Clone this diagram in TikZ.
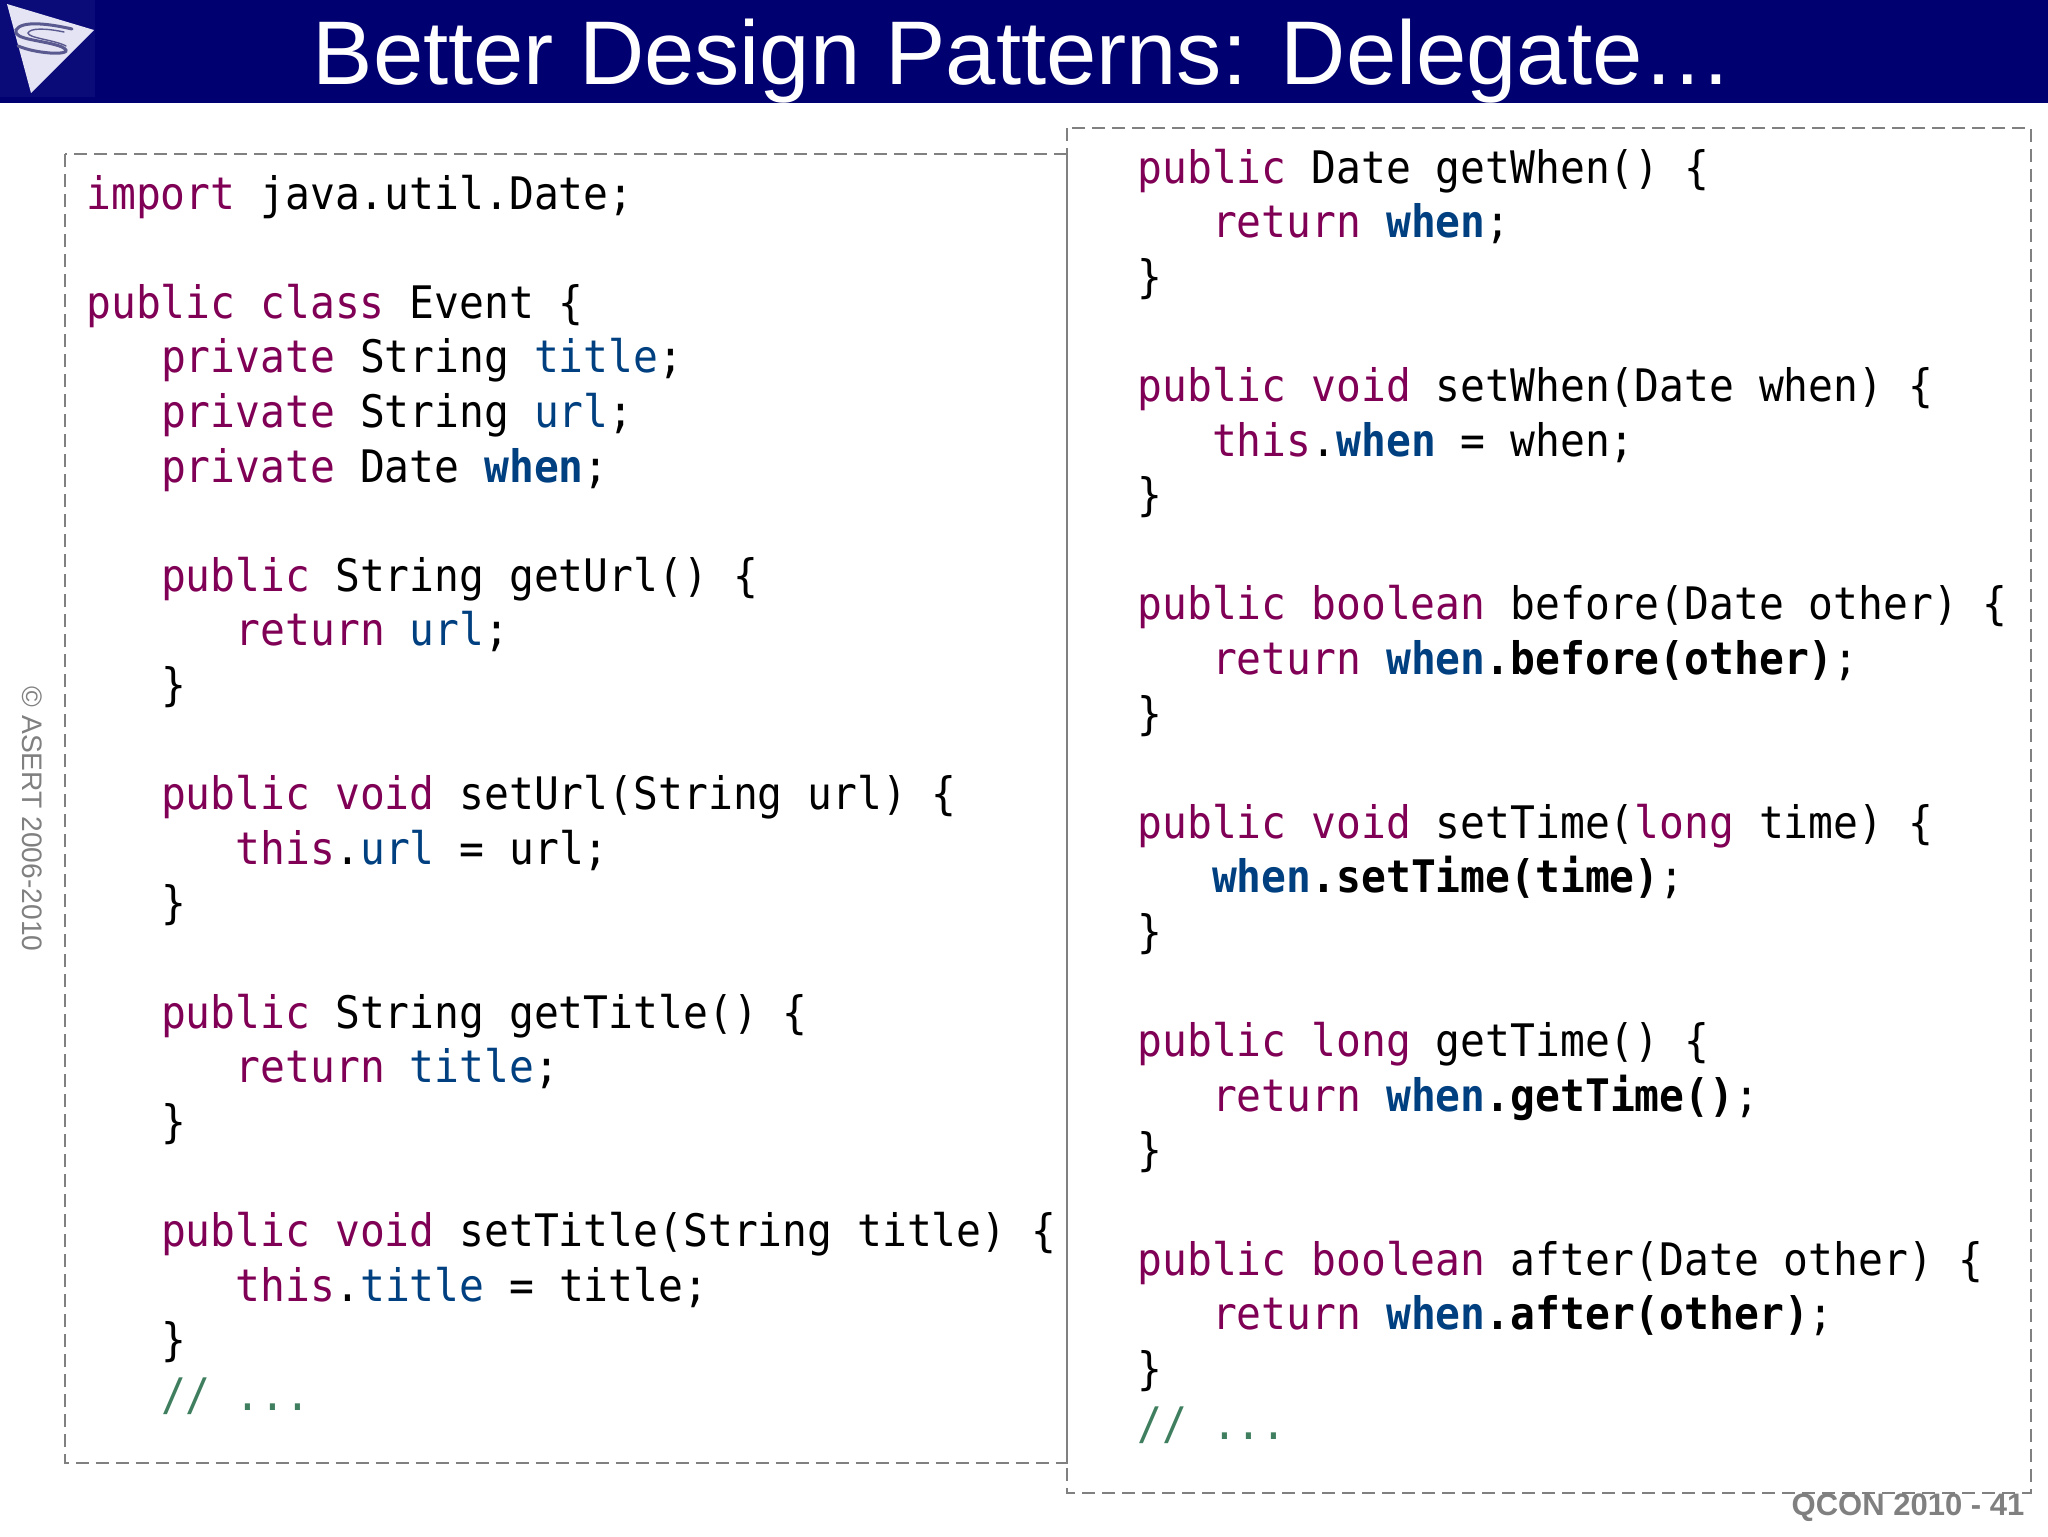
\documentclass[tikz,border=0pt]{standalone}
\usepackage{fontspec}
\setmainfont{Liberation Sans}
\newfontfamily\codefont[FakeStretch=0.922]{DejaVu Sans Mono}
\usetikzlibrary{positioning}
\definecolor{bandblue}{HTML}{000070}
\definecolor{logoblue}{HTML}{0A0A78}
\definecolor{logoface}{HTML}{E4E4F4}
\definecolor{logoswoosh}{HTML}{5A5A90}
\definecolor{kwcolor}{HTML}{7F0055}
\definecolor{fldcolor}{HTML}{004080}
\definecolor{cmtcolor}{HTML}{3F7F5F}
\definecolor{dashgray}{HTML}{808080}
\newcommand\kw[1]{\textcolor{kwcolor}{#1}}
\newcommand\fld[1]{\textcolor{fldcolor}{#1}}
\newcommand\fldb[1]{\textcolor{fldcolor}{\bfseries #1}}
\newcommand\cmt[1]{\textcolor{cmtcolor}{#1}}
\newcommand\ind{\hspace*{37.35pt}}
\newcommand\blankline{\mbox{}\\}
\tikzset{
  codeblock/.style={anchor=north west, inner sep=0pt, align=left, text=black,
    font=\fontsize{22.4}{27.3}\selectfont\codefont},
  dashbox/.style={draw=dashgray, line width=1.2pt, dash pattern=on 6.5pt off 3.5pt},
  footnote/.style={text=dashgray},
  swoosh/.style={draw=logoswoosh, line cap=round}
}
\begin{document}
\begin{tikzpicture}[x=0.5pt,y=-0.5pt]
\useasboundingbox (0,0) rectangle (2048,1536);
% header
\fill[bandblue] (0,0) rectangle (2048,103);
\fill[logoblue] (0,0) rectangle (95,97);
\fill[logoface] (7,4) -- (94,30) -- (31,93) -- cycle;
\draw[swoosh, line width=1.5pt] (72,29) .. controls (50,24) and (22,20) .. (16,30) .. controls (12,40) and (45,40) .. (62,47) .. controls (72,52) and (62,54) .. (50,53) .. controls (38,52) and (28,50) .. (18,46);
\draw[swoosh, line width=0.7pt] (64,32) .. controls (45,28) and (30,28) .. (28,33) .. controls (28,38) and (55,40) .. (66,46);
\node (title) at (1023,61) {\fontsize{45.2}{50}\selectfont\color{white}Better Design Patterns: Delegate…};
% boxes
\draw[dashbox] (65,154) rectangle (1067,1463);
\draw[dashbox] (1067,128) rectangle (2031,1493);
% left code
\node[codeblock] (leftcode) at (86,174.5) {%
\kw{import} java.util.Date;\\
\blankline
\kw{public} \kw{class} Event \{\\
\ind\kw{private} String \fld{title};\\
\ind\kw{private} String \fld{url};\\
\ind\kw{private} Date \fldb{when};\\
\blankline
\ind\kw{public} String getUrl() \{\\
\ind\ind\kw{return} \fld{url};\\
\ind\}\\
\blankline
\ind\kw{public} \kw{void} setUrl(String url) \{\\
\ind\ind\kw{this}.\fld{url} = url;\\
\ind\}\\
\blankline
\ind\kw{public} String getTitle() \{\\
\ind\ind\kw{return} \fld{title};\\
\ind\}\\
\blankline
\ind\kw{public} \kw{void} setTitle(String title) \{\\
\ind\ind\kw{this}.\fld{title} = title;\\
\ind\}\\
\ind\cmt{// ...}};
% right code
\node[codeblock] (rightcode) at (1137,148.5) {%
\kw{public} Date getWhen() \{\\
\ind\kw{return} \fldb{when};\\
\}\\
\blankline
\kw{public} \kw{void} setWhen(Date when) \{\\
\ind\kw{this}.\fldb{when} = when;\\
\}\\
\blankline
\kw{public} \kw{boolean} before(Date other) \{\\
\ind\kw{return} \fldb{when}\textbf{.before(other)};\\
\}\\
\blankline
\kw{public} \kw{void} setTime(\kw{long} time) \{\\
\ind\fldb{when}\textbf{.setTime(time)};\\
\}\\
\blankline
\kw{public} \kw{long} getTime() \{\\
\ind\kw{return} \fldb{when}\textbf{.getTime()};\\
\}\\
\blankline
\kw{public} \kw{boolean} after(Date other) \{\\
\ind\kw{return} \fldb{when}\textbf{.after(other)};\\
\}\\
\cmt{// ...}};
% footer
\node[footnote, rotate=-90, font=\fontsize{14.1}{16}\selectfont] (copyright) at (32,819) {© ASERT 2006-2010};
\node[footnote, font=\fontsize{15.5}{18}\selectfont\bfseries] (pageno) at (1908,1508) {QCON 2010 - 41};
\end{tikzpicture}
\end{document}
